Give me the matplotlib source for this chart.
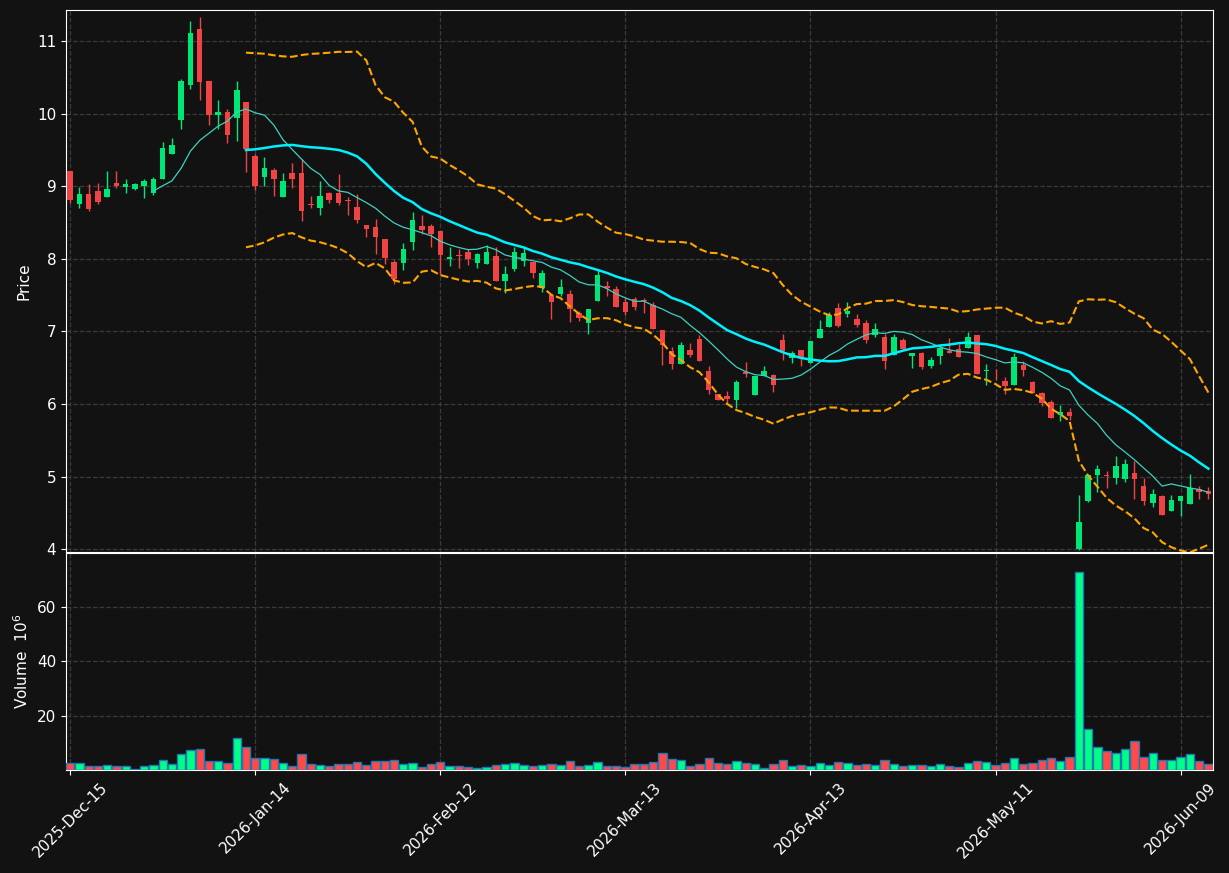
import numpy as np
import pandas as pd
import matplotlib
matplotlib.use("Agg")
import matplotlib.pyplot as plt

# daily OHLC (trading days from 2025-12-15)
opens = [9.21, 8.756, 8.90, 8.93, 8.85, 9.04, 8.99, 8.97, 9.01, 8.91,
         9.10, 9.446, 9.915, 10.398, 11.166, 10.448, 9.984, 10.03, 9.943, 10.159,
         9.425, 9.126, 9.232, 8.85, 9.177, 9.177, 8.75, 8.70, 8.915, 8.915,
         8.81, 8.72, 8.47, 8.446, 8.27, 7.96, 7.94, 8.23, 8.46, 8.46,
         8.38, 7.995, 8.055, 8.09, 7.95, 7.926, 8.046, 7.70, 7.866, 7.977,
         7.963, 7.593, 7.505, 7.52, 7.52, 7.26, 7.12, 7.42, 7.63, 7.588,
         7.40, 7.45, 7.44, 7.37, 7.014, 6.726, 6.548, 6.74, 6.89, 6.45,
         6.14, 6.11, 6.055, 6.44, 6.12, 6.38, 6.40, 6.877, 6.63, 6.74,
         6.57, 6.91, 7.055, 7.327, 7.245, 7.177, 7.11, 6.945, 6.918, 6.67,
         6.877, 6.66, 6.70, 6.52, 6.66, 6.727, 6.755, 6.768, 6.945, 6.455,
         6.39, 6.317, 6.26, 6.538, 6.303, 6.152, 6.028, 5.848, 5.89, 4.0,
         4.662, 5.025, 5.021, 4.984, 4.97, 5.048, 4.869, 4.634, 4.731, 4.524,
         4.662, 4.62, 4.828, 4.80]
highs = [9.21, 8.99, 9.037, 9.04, 9.21, 9.21, 9.10, 9.05, 9.10, 9.13,
         9.616, 9.66, 10.485, 11.276, 11.336, 10.45, 10.195, 10.06, 10.448, 10.16,
         9.45, 9.41, 9.246, 9.19, 9.315, 9.38, 8.87, 9.07, 8.92, 9.17,
         8.85, 8.89, 8.47, 8.55, 8.27, 7.99, 8.22, 8.65, 8.60, 8.48,
         8.38, 8.16, 8.13, 8.13, 8.075, 8.185, 8.16, 7.90, 8.16, 8.16,
         7.963, 7.84, 7.505, 7.727, 7.574, 7.287, 7.31, 7.84, 7.70, 7.63,
         7.466, 7.48, 7.466, 7.40, 7.014, 6.79, 6.85, 6.836, 6.945, 6.53,
         6.14, 6.18, 6.33, 6.575, 6.38, 6.53, 6.42, 6.96, 6.726, 6.74,
         6.864, 7.16, 7.27, 7.395, 7.41, 7.245, 7.164, 7.12, 6.97, 6.96,
         6.905, 6.70, 6.71, 6.645, 6.81, 6.905, 6.823, 6.986, 6.945, 6.55,
         6.48, 6.37, 6.70, 6.593, 6.317, 6.166, 6.055, 5.986, 5.945, 4.745,
         5.021, 5.163, 5.076, 5.283, 5.24, 5.218, 4.979, 4.828, 4.745, 4.745,
         4.731, 5.039, 4.869, 4.855]
lows = [8.775, 8.70, 8.655, 8.75, 8.85, 8.98, 8.91, 8.95, 8.84, 8.88,
        9.10, 9.446, 9.795, 10.347, 10.195, 9.85, 9.795, 9.60, 9.625, 9.20,
        8.95, 9.01, 8.87, 8.85, 8.98, 8.52, 8.70, 8.60, 8.77, 8.745,
        8.60, 8.50, 8.30, 8.07, 7.93, 7.655, 7.84, 8.12, 8.34, 8.17,
        7.78, 7.90, 7.88, 7.92, 7.88, 7.926, 7.70, 7.53, 7.83, 7.90,
        7.73, 7.546, 7.176, 7.49, 7.134, 7.148, 6.97, 7.42, 7.49, 7.33,
        7.23, 7.30, 7.26, 7.03, 6.54, 6.48, 6.548, 6.644, 6.59, 6.14,
        6.05, 6.01, 5.95, 6.37, 6.12, 6.38, 6.17, 6.60, 6.56, 6.52,
        6.57, 6.91, 7.055, 7.055, 7.205, 7.055, 6.836, 6.93, 6.48, 6.67,
        6.74, 6.50, 6.486, 6.50, 6.545, 6.70, 6.645, 6.768, 6.41, 6.26,
        6.33, 6.14, 6.26, 6.38, 6.156, 5.968, 5.807, 5.76, 5.78, 3.99,
        4.644, 4.79, 4.84, 4.90, 4.924, 4.69, 4.607, 4.58, 4.469, 4.524,
        4.46, 4.62, 4.69, 4.69]
closes = [8.81, 8.89, 8.683, 8.78, 8.96, 9.01, 9.03, 9.03, 9.07, 9.10,
          9.524, 9.566, 10.448, 11.12, 10.439, 9.988, 10.02, 9.713, 10.324, 9.515,
          9.0, 9.246, 9.099, 9.08, 9.099, 8.657, 8.74, 8.87, 8.81, 8.768,
          8.80, 8.53, 8.41, 8.30, 8.01, 7.72, 8.14, 8.53, 8.40, 8.345,
          8.05, 8.03, 8.045, 8.005, 8.074, 8.09, 7.70, 7.796, 8.10, 8.088,
          7.81, 7.81, 7.40, 7.616, 7.31, 7.19, 7.31, 7.78, 7.593, 7.343,
          7.27, 7.34, 7.415, 7.03, 6.81, 6.548, 6.82, 6.67, 6.59, 6.19,
          6.055, 6.07, 6.30, 6.41, 6.38, 6.45, 6.26, 6.726, 6.70, 6.644,
          6.864, 7.027, 7.23, 7.08, 7.286, 7.095, 6.877, 7.027, 6.59, 6.93,
          6.755, 6.70, 6.51, 6.605, 6.768, 6.70, 6.645, 6.93, 6.41, 6.46,
          6.38, 6.253, 6.653, 6.469, 6.156, 6.014, 5.807, 5.89, 5.839, 4.372,
          5.021, 5.103, 5.012, 5.145, 5.172, 4.97, 4.662, 4.754, 4.469, 4.676,
          4.731, 4.841, 4.786, 4.759]
# volume in millions
volumes = [2.6, 2.6, 1.35, 1.35, 1.85, 1.35, 1.35, 0.4, 1.35, 1.85,
           3.7, 2.2, 5.9, 7.4, 7.7, 3.3, 3.3, 2.6, 11.8, 8.5,
           4.4, 4.4, 4.05, 2.6, 1.35, 5.9, 2.2, 1.85, 1.35, 2.2,
           2.2, 2.95, 1.85, 3.3, 3.3, 3.7, 2.2, 2.6, 1.0, 2.2,
           2.95, 1.35, 1.35, 1.0, 0.6, 1.0, 1.85, 2.2, 2.6, 1.85,
           1.35, 1.85, 2.2, 1.85, 3.3, 1.35, 1.85, 2.95, 1.35, 1.35,
           1.0, 2.2, 2.2, 2.95, 6.25, 4.05, 3.7, 1.35, 2.2, 4.4,
           2.6, 2.2, 3.3, 2.6, 2.2, 0.6, 2.2, 3.7, 1.35, 1.85,
           1.35, 2.6, 1.85, 2.95, 2.6, 1.85, 2.2, 1.85, 3.7, 2.2,
           1.35, 1.85, 1.85, 1.35, 2.2, 1.35, 1.0, 2.6, 3.3, 2.95,
           1.85, 2.6, 4.4, 2.2, 2.6, 3.7, 4.4, 3.3, 4.8, 72.5,
           15.1, 8.5, 7.0, 6.25, 7.7, 10.6, 4.8, 6.25, 3.7, 3.7,
           4.8, 5.9, 3.3, 2.2]

holidays = ["2025-12-25", "2026-01-01", "2026-01-19", "2026-02-16", "2026-04-03", "2026-05-25"]
dates = pd.bdate_range("2025-12-15", periods=len(closes), freq="C", holidays=holidays)

df = pd.DataFrame({"Open": opens, "High": highs, "Low": lows, "Close": closes,
                   "Volume": volumes}, index=dates)
df["ma10"] = df["Close"].rolling(10).mean()
df["ma20"] = df["Close"].rolling(20).mean()
std20 = df["Close"].rolling(20).std(ddof=0)
df["bb_up"] = df["ma20"] + 2 * std20
df["bb_lo"] = df["ma20"] - 2 * std20

bg = "#121212"
up_c, down_c = "#00e676", "#f04444"
vol_up, vol_down = "#00ff88", "#ff4a4a"

plt.rcParams["font.family"] = "DejaVu Sans"
fig = plt.figure(figsize=(12.29, 8.73), dpi=100, facecolor=bg)
ax = fig.add_axes([0.0537, 0.3677, 0.9333, 0.6208])
axv = fig.add_axes([0.0537, 0.118, 0.9333, 0.2487], sharex=ax)

x = np.arange(len(df))
up = df["Close"] >= df["Open"]
colors = np.where(up, up_c, down_c)
body_lo = np.minimum(df["Open"], df["Close"])
body_h = np.maximum((df["Close"] - df["Open"]).abs(), 0.012)

ax.vlines(x, df["Low"], df["High"], colors=colors, linewidth=1.0, zorder=2)
ax.bar(x, body_h, bottom=body_lo, width=0.6, color=colors, linewidth=0, zorder=3)

ax.plot(x, df["ma10"], color="#40d0c0", linewidth=0.9, zorder=4)
ax.plot(x, df["ma20"], color="#00f0ff", linewidth=1.8, zorder=4)
ax.plot(x, df["bb_up"], color="orange", linestyle="--", linewidth=1.5, zorder=4)
ax.plot(x, df["bb_lo"], color="orange", linestyle="--", linewidth=1.5, zorder=4)

axv.bar(x, df["Volume"], width=0.9, color=np.where(up, vol_up, vol_down),
        edgecolor="#1f77b4", linewidth=1.0, zorder=3)

for a in (ax, axv):
    a.set_facecolor(bg)
    a.grid(True, color="#3a3a3a", linestyle="--", linewidth=0.9)
    a.set_axisbelow(True)
    for s in a.spines.values():
        s.set_color("white")
    a.tick_params(colors="white", labelsize=11)

ax.set_ylim(3.96, 11.43)
ax.set_yticks(range(4, 12))
ax.set_ylabel("Price", color="white", fontsize=11)
ax.tick_params(axis="x", labelbottom=False)

axv.set_ylim(0, 79.7)
axv.set_yticks([20, 40, 60])
axv.set_ylabel("Volume  $10^{6}$", color="white", fontsize=11)

ticks = list(range(0, len(df), 20))
axv.set_xticks(ticks)
axv.set_xticklabels([dates[i].strftime("%Y-%b-%d") for i in ticks], rotation=45, ha="center")
axv.set_xlim(-0.45, len(df) - 0.5)

fig.savefig("out.png", dpi=100, facecolor=bg)
